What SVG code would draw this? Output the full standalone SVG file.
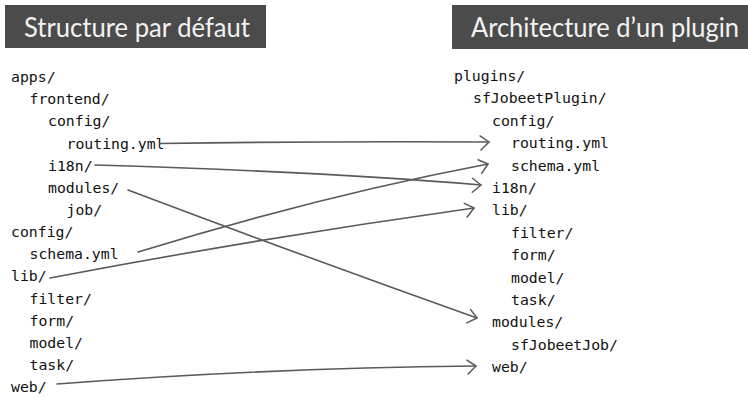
<svg xmlns="http://www.w3.org/2000/svg" width="748" height="398" viewBox="0 0 748 398">
  <style>
    .bar { fill: #4b4b4b; }
    .title { font-family: Lato, "Open Sans", sans-serif; font-size: 26px; fill: #f2f2f2; }
    .t { font-family: "DejaVu Sans Mono", "Liberation Mono", monospace; font-size: 14.8px; fill: #111111; }
    .c { fill: none; stroke: #5a5a5a; stroke-width: 1.6; stroke-linecap: round; }
  </style>
  <defs>
    <marker id="ah" viewBox="-12 -10 14 20" refX="0" refY="0" markerWidth="14" markerHeight="20" markerUnits="userSpaceOnUse" orient="auto">
      <path d="M-9,-6 L0,0 L-8,8" fill="none" stroke="#5a5a5a" stroke-width="1.5" stroke-linecap="round" stroke-linejoin="round"/>
    </marker>
  </defs>
  <rect width="748" height="398" fill="#ffffff"/>

  <g id="title-left">
    <rect class="bar" x="5" y="5" width="261" height="43"/>
    <text class="title" x="24" y="37" textLength="226" lengthAdjust="spacingAndGlyphs">Structure par défaut</text>
  </g>
  <g id="title-right">
    <rect class="bar" x="452" y="5" width="296" height="44"/>
    <text class="title" x="471" y="37" textLength="268" lengthAdjust="spacingAndGlyphs">Architecture d’un plugin</text>
  </g>

  <g id="tree-left">
    <text class="t" x="11" y="82">apps/</text>
    <text class="t" x="29.5" y="104.2">frontend/</text>
    <text class="t" x="48" y="126.3">config/</text>
    <text class="t" x="66.5" y="148.5">routing.yml</text>
    <text class="t" x="48" y="170.6">i18n/</text>
    <text class="t" x="48" y="192.8">modules/</text>
    <text class="t" x="66.5" y="214.9">job/</text>
    <text class="t" x="11" y="237.1">config/</text>
    <text class="t" x="29.5" y="259.2">schema.yml</text>
    <text class="t" x="11" y="281.4">lib/</text>
    <text class="t" x="29.5" y="303.5">filter/</text>
    <text class="t" x="29.5" y="325.7">form/</text>
    <text class="t" x="29.5" y="347.8">model/</text>
    <text class="t" x="29.5" y="370">task/</text>
    <text class="t" x="11" y="392.1">web/</text>
  </g>

  <g id="tree-right">
    <text class="t" x="454" y="81">plugins/</text>
    <text class="t" x="473" y="103.4">sfJobeetPlugin/</text>
    <text class="t" x="492" y="125.8">config/</text>
    <text class="t" x="511" y="148.2">routing.yml</text>
    <text class="t" x="511" y="170.6">schema.yml</text>
    <text class="t" x="492" y="193">i18n/</text>
    <text class="t" x="492" y="215.4">lib/</text>
    <text class="t" x="511" y="237.8">filter/</text>
    <text class="t" x="511" y="260.2">form/</text>
    <text class="t" x="511" y="282.6">model/</text>
    <text class="t" x="511" y="305">task/</text>
    <text class="t" x="492" y="327.4">modules/</text>
    <text class="t" x="511" y="349.8">sfJobeetJob/</text>
    <text class="t" x="492" y="372.2">web/</text>
  </g>

  <g id="connectors">
    <path class="c" d="M160,143.5 Q330,141 489,142" marker-end="url(#ah)"/>
    <path class="c" d="M95,165 Q330,172 481,185" marker-end="url(#ah)"/>
    <path class="c" d="M128,190 Q300,255 477,318" marker-end="url(#ah)"/>
    <path class="c" d="M138,252 Q320,196 488,164" marker-end="url(#ah)"/>
    <path class="c" d="M50,278 Q260,238 474,208" marker-end="url(#ah)"/>
    <path class="c" d="M57,384 Q270,368 476,366" marker-end="url(#ah)"/>
  </g>
</svg>
